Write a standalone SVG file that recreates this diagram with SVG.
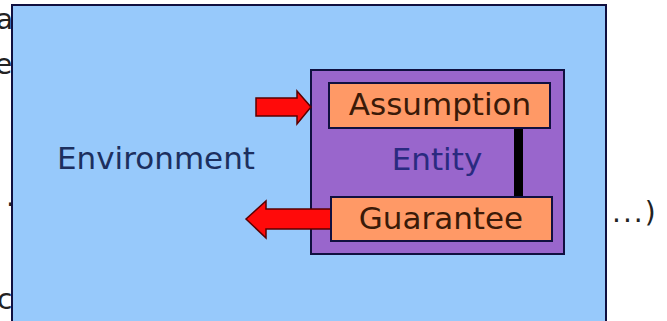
<svg xmlns="http://www.w3.org/2000/svg" width="667" height="321" viewBox="0 0 667 321">
  <style>
    .side { font-family: "DejaVu Sans", sans-serif; font-size: 28px; fill: #222222; }
    .lbl { font-family: "DejaVu Sans", sans-serif; font-size: 31px; }
    .box { stroke: #101040; stroke-width: 2; }
    .arrow { fill: #ff0a0a; stroke: #5a0000; stroke-width: 1.5; stroke-linejoin: miter; }
  </style>
  <rect width="667" height="321" fill="#ffffff"/>

  <!-- text running behind the environment panel -->
  <g id="side-text">
    <text class="side" x="-4" y="29">a</text>
    <text class="side" x="-5" y="74">e</text>
    <text class="side" x="6" y="206">.</text>
    <text class="side" x="-3" y="309">c</text>
    <text class="side" x="612" y="222" font-size="32" letter-spacing="2">...)</text>
  </g>

  <g id="environment">
    <rect class="box" x="12" y="5" width="594" height="330" fill="#97c9fb"/>
    <text class="lbl" x="156" y="169" text-anchor="middle" fill="#1c2f5e">Environment</text>
  </g>

  <g id="entity">
    <rect class="box" x="311" y="70" width="253" height="184" fill="#9966cc"/>
    <text class="lbl" x="437" y="170" text-anchor="middle" fill="#2a2a80">Entity</text>
  </g>

  <g id="connectors">
    <!-- link between assumption and guarantee -->
    <rect x="514" y="127" width="9" height="71" fill="#000000"/>
    <!-- incoming arrow -->
    <polygon class="arrow" points="256,98 297,98 297,91 311,107 297,124 297,116 256,116"/>
    <!-- outgoing arrow -->
    <polygon class="arrow" points="332,209 266,209 266,201 246,219 266,238 266,229 332,229"/>
  </g>

  <g id="assumption">
    <rect class="box" x="329" y="83" width="221" height="45" fill="#ff9966"/>
    <text class="lbl" x="440" y="115" text-anchor="middle" fill="#3a1a08">Assumption</text>
  </g>

  <g id="guarantee">
    <rect class="box" x="331" y="197" width="221" height="44" fill="#ff9966"/>
    <text class="lbl" x="441" y="229" text-anchor="middle" fill="#3a1a08">Guarantee</text>
  </g>
</svg>
